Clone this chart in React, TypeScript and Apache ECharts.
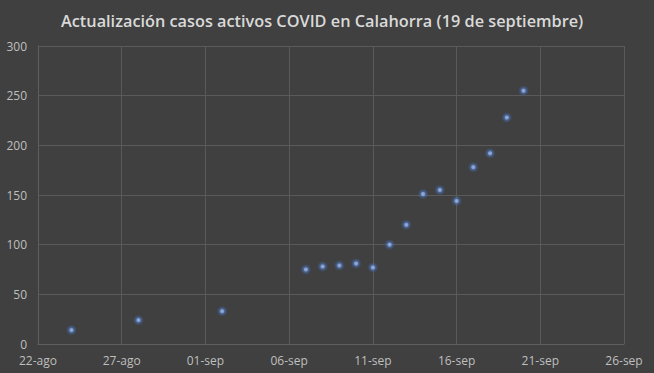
import React, { useEffect, useRef } from "react";
import * as echarts from "echarts";

const titleText = "Actualización casos activos COVID en Calahorra (19 de septiembre)";
const startDate = "2020-08-22";
const dates = [
  "2020-08-24", "2020-08-28", "2020-09-02", "2020-09-07", "2020-09-08", "2020-09-09",
  "2020-09-10", "2020-09-11", "2020-09-12", "2020-09-13", "2020-09-14", "2020-09-15",
  "2020-09-16", "2020-09-17", "2020-09-18", "2020-09-19", "2020-09-20",
];
const cases = [14, 24, 33, 75, 78, 79, 81, 77, 100, 120, 151, 155, 144, 178, 192, 228, 255];
const xTickLabels = ["22-ago", "27-ago", "01-sep", "06-sep", "11-sep", "16-sep", "21-sep", "26-sep"];
const yTicks = [0, 50, 100, 150, 200, 250, 300];

const dayMs = 86400000;
const dayOffset = (d: string) => Math.round((Date.parse(d) - Date.parse(startDate)) / dayMs);

export default function App() {
  const ref = useRef<HTMLDivElement>(null);
  useEffect(() => {
    if (!ref.current) return;
    const chart = echarts.init(ref.current, undefined, { renderer: "svg" });
    const font = "'Open Sans', 'Noto Sans', sans-serif";
    chart.setOption({
      animation: false,
      backgroundColor: "#404040",
      title: {
        text: titleText,
        left: 56,
        top: 8,
        textStyle: { color: "#d9d9d9", fontSize: 16.3, fontWeight: 600, fontFamily: font },
      },
      grid: { left: 38, right: 30, top: 46, bottom: 29, containLabel: false },
      xAxis: {
        type: "value",
        min: 0,
        max: (xTickLabels.length - 1) * 5,
        interval: 5,
        axisLine: { show: true, lineStyle: { color: "#5e5e5e" } },
        axisTick: { show: false },
        splitLine: { show: true, lineStyle: { color: "#5a5a5a", width: 1 } },
        axisLabel: {
          color: "#bfbfbf",
          fontSize: 12,
          lineHeight: 12,
          fontFamily: font,
          margin: 10,
          formatter: (v: number) => xTickLabels[Math.round(v / 5)] ?? "",
        },
      },
      yAxis: {
        type: "value",
        min: yTicks[0],
        max: yTicks[yTicks.length - 1],
        interval: 50,
        axisLine: { show: true, lineStyle: { color: "#5e5e5e" } },
        axisTick: { show: false },
        splitLine: { show: true, lineStyle: { color: "#5a5a5a", width: 1 } },
        axisLabel: { color: "#bfbfbf", fontSize: 12, lineHeight: 12, fontFamily: font, margin: 11 },
      },
      series: [
        {
          type: "scatter",
          symbol: "circle",
          symbolSize: 11,
          data: dates.map((d, i) => [dayOffset(d), cases[i]]),
          itemStyle: {
            color: {
              type: "radial",
              x: 0.5,
              y: 0.5,
              r: 0.5,
              colorStops: [
                { offset: 0, color: "#b4cbf5" },
                { offset: 0.3, color: "#8fb0ec" },
                { offset: 0.45, color: "rgba(80,125,205,0.75)" },
                { offset: 0.75, color: "rgba(68,114,196,0.3)" },
                { offset: 1, color: "rgba(68,114,196,0)" },
              ],
            },
          },
        },
      ],
    });
    return () => chart.dispose();
  }, []);
  return (
    <div
      ref={ref}
      style={{ position: "absolute", left: 0, top: 0, width: 654, height: 373 }}
    />
  );
}
